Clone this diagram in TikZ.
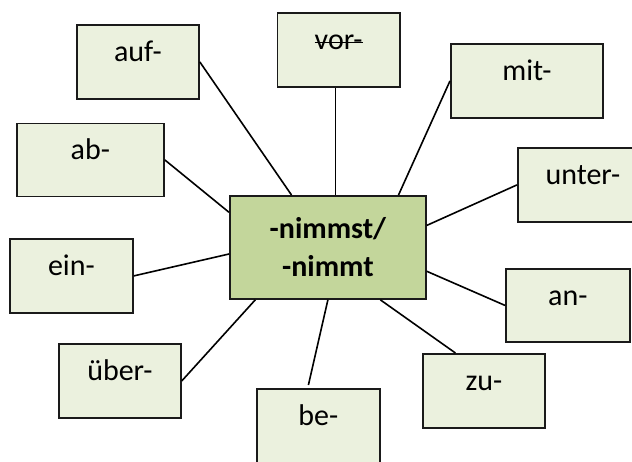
\documentclass[tikz,border=0pt]{standalone}
\usepackage{fontspec}
\setmainfont{Carlito}
\usetikzlibrary{calc}
\definecolor{boxfill}{HTML}{EBF1DE}
\definecolor{midfill}{HTML}{C3D69B}
\definecolor{edge}{HTML}{1A1A1A}
\newcommand\mystrike[1]{\leavevmode\setbox0\hbox{#1}\rlap{\rule[0.22em]{\wd0}{0.06em}}\box0}
\tikzset{
  prefbox/.style={draw=edge, line width=1.8pt, fill=boxfill, rectangle, anchor=north west,
    inner sep=0pt, font=\fontsize{30}{34}\selectfont, text height=0.66em, text depth=0.66em},
  midbox/.style={draw=edge, line width=1.8pt, fill=midfill, rectangle, anchor=north west,
    inner sep=0pt, align=center, font=\fontsize{30}{38}\bfseries\selectfont,
    minimum width=196pt, minimum height=103pt},
  conn/.style={draw=black, line width=1.6pt}
}
\begin{document}
\begin{tikzpicture}[x=1pt,y=-1pt]
\useasboundingbox (0,0) rectangle (632,461);
\node[midbox] (c) at (229,195) {-nimmst/\\-nimmt};
\node[prefbox, minimum width=122pt, minimum height=74pt] (auf) at (76,24) {auf-};
\node[prefbox, minimum width=122.5pt, minimum height=74pt] (vor) at (276.5,12) {\mystrike{vor-}};
\node[prefbox, minimum width=152pt, minimum height=74pt] (mit) at (450,43) {mit-};
\node[prefbox, minimum width=147pt, minimum height=73pt] (ab) at (16,122.5) {ab-};
\node[prefbox, minimum width=130pt, minimum height=74pt] (unter) at (517,147) {unter-};
\node[prefbox, minimum width=123pt, minimum height=74pt] (ein) at (9,238) {ein-};
\node[prefbox, minimum width=124pt, minimum height=73pt] (an) at (505,268) {an-};
\node[prefbox, minimum width=122pt, minimum height=74pt] (ueber) at (58,343) {über-};
\node[prefbox, minimum width=122pt, minimum height=74pt] (zu) at (422,353) {zu-};
\node[prefbox, minimum width=123pt, minimum height=74pt] (be) at (256,388) {be-};
% connectors
\path[conn] (auf.east) -- ($(c.north west)!0.316!(c.north east)$);
\path[conn] ($(c.north west)!0.539!(c.north east)$) coordinate (vt) -- (vt |- vor.south);
\path[conn] (mit.west) -- ($(c.north west)!0.857!(c.north east)$);
\path[conn] (ab.east) -- ($(c.north west)!0.165!(c.south west)$);
\path[conn] (unter.west) -- ($(c.north east)!0.29!(c.south east)$);
\path[conn] (ein.east) -- ($(c.north west)!0.563!(c.south west)$);
\path[conn] (an.west) -- ($(c.north east)!0.728!(c.south east)$);
\path[conn] (ueber.east) -- ($(c.south west)!0.133!(c.south east)$);
\path[conn] ($(c.south west)!0.5!(c.south east)$) -- ($(be.north west)!0.42!(be.north east)+(0,-3)$);
\path[conn] ($(c.south west)!0.765!(c.south east)$) -- ($(zu.north west)!0.27!(zu.north east)$);
\end{tikzpicture}
\end{document}
